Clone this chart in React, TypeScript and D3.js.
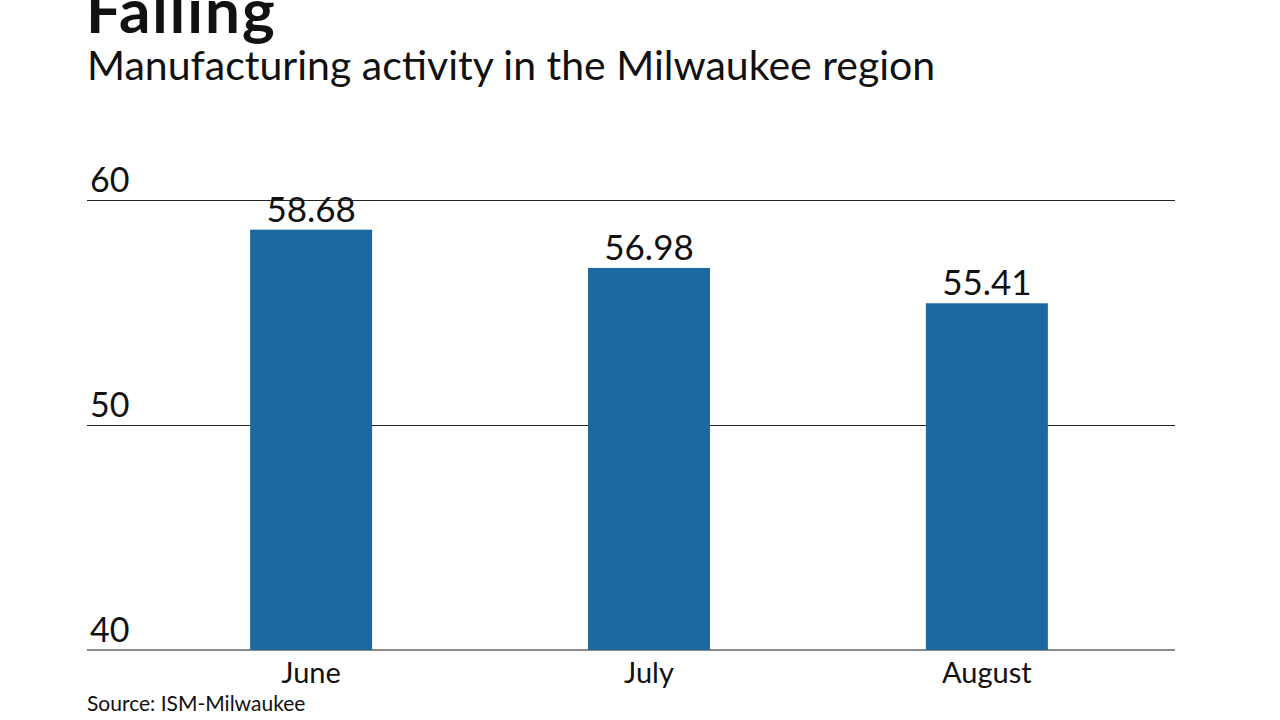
import { useEffect, useRef } from 'react';
import * as d3 from 'd3';

const months = ['June', 'July', 'August'];
const values = [58.68, 56.98, 55.41];
const yTicks = [40, 50, 60];

const W = 1280;
const H = 720;
const FONT = "Lato, 'Noto Sans', sans-serif";
const BAR = '#1c69a0';

export default function App() {
  const ref = useRef<SVGSVGElement>(null);

  useEffect(() => {
    document.body.style.margin = '0';
    const svg = d3.select(ref.current);
    svg.selectAll('*').remove();

    const y = d3.scaleLinear().domain([40, 60]).range([650, 200]);
    const x = d3.scaleBand<string>()
      .domain(months)
      .range([142, 1156])
      .paddingInner(0.639)
      .paddingOuter(0.32);

    // titles
    svg.append('text')
      .attr('x', 86).attr('y', 33)
      .attr('font-family', FONT).attr('font-weight', 700)
      .attr('font-size', 62).attr('letter-spacing', 2).attr('fill', '#111')
      .text('Falling');
    svg.append('text')
      .attr('x', 87).attr('y', 80)
      .attr('font-family', FONT).attr('font-size', 41).attr('fill', '#111')
      .text('Manufacturing activity in the Milwaukee region');

    // grid + tick labels
    const grid = svg.append('g');
    grid.selectAll('line')
      .data(yTicks)
      .join('line')
      .attr('x1', 87).attr('x2', 1175)
      .attr('y1', (d) => y(d) + (d === 40 ? 0 : 0.5))
      .attr('y2', (d) => y(d) + (d === 40 ? 0 : 0.5))
      .attr('stroke', (d) => (d === 40 ? '#8a8a8a' : '#222'))
      .attr('stroke-width', (d) => (d === 40 ? 2 : 1))
      .attr('shape-rendering', 'crispEdges');
    grid.selectAll('text')
      .data(yTicks)
      .join('text')
      .attr('x', 90).attr('y', (d) => y(d) - 8)
      .attr('font-family', FONT).attr('font-size', 34).attr('fill', '#111')
      .text((d) => d);

    // bars
    const bars = svg.append('g');
    bars.selectAll('rect')
      .data(values)
      .join('rect')
      .attr('x', (_, i) => x(months[i])!)
      .attr('width', x.bandwidth())
      .attr('y', (d) => y(d))
      .attr('height', (d) => y(40) - y(d))
      .attr('fill', BAR);
    bars.selectAll('text')
      .data(values)
      .join('text')
      .attr('x', (_, i) => x(months[i])! + x.bandwidth() / 2)
      .attr('y', (d) => y(d) - 8)
      .attr('text-anchor', 'middle')
      .attr('font-family', FONT).attr('font-size', 35).attr('fill', '#111')
      .text((d) => d.toFixed(2));

    // x labels
    svg.append('g').selectAll('text')
      .data(months)
      .join('text')
      .attr('x', (d) => x(d)! + x.bandwidth() / 2)
      .attr('y', 683)
      .attr('text-anchor', 'middle')
      .attr('font-family', FONT).attr('font-size', 29).attr('fill', '#111')
      .text((d) => d);

    svg.append('text')
      .attr('x', 87).attr('y', 711)
      .attr('font-family', FONT).attr('font-size', 21).attr('fill', '#111')
      .text('Source: ISM-Milwaukee');
  }, []);

  return <svg ref={ref} width={W} height={H} style={{ display: 'block', background: '#fff' }} />;
}
